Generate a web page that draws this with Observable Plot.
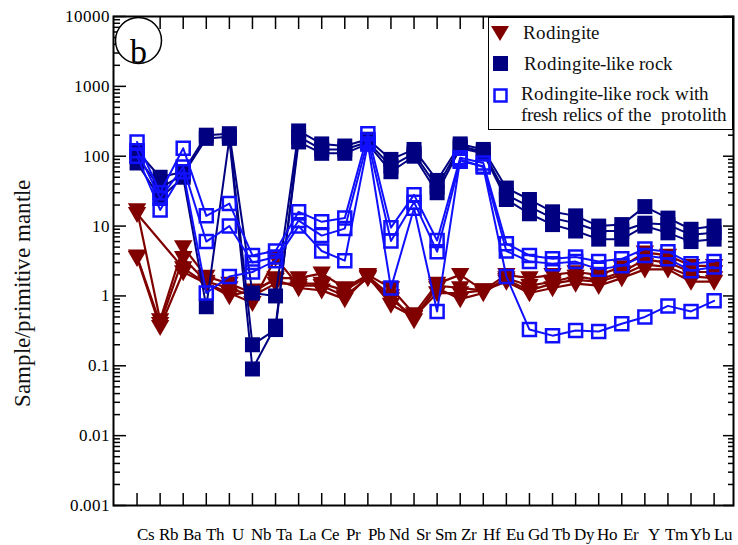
<!DOCTYPE html>
<html><head><meta charset="utf-8">
<script src="https://cdn.jsdelivr.net/npm/d3@7"></script>
<script src="https://cdn.jsdelivr.net/npm/@observablehq/plot@0.6"></script>
<style>
@font-face { font-family: "ChartSerif"; src: local("Liberation Serif"), local("LiberationSerif"), local("Liberation Serif Regular"), local("LiberationSerif-Regular"); }
body{margin:0;background:#fff;font-family:ChartSerif,serif;}
#wrap{position:relative;width:738px;height:545px;}
#legend{position:absolute;left:488px;top:17px;width:245px;height:113px;border:1px solid #000;background:#fff;box-sizing:border-box;}
.lt{position:absolute;font-size:19px;line-height:22px;color:#111;font-family:ChartSerif,serif;}
.li{position:absolute;}
</style>
</head><body><div id="wrap"></div>
<script>
const elements = ["Cs","Rb","Ba","Th","U","Nb","Ta","La","Ce","Pr","Pb","Nd","Sr","Sm","Zr","Hf","Eu","Gd","Tb","Dy","Ho","Er","Y","Tm","Yb","Lu"];
const yTicks = [0.001, 0.01, 0.1, 1, 10, 100, 1000, 10000];
const yTickLabels = ["0.001","0.01","0.1","1","10","100","1000","10000"];
const yLabel = "Sample/primitive mantle";
const panelLabel = "b";
const legendLabels = ["Rodingite", "Rodingite-like rock", "Rodingite-like rock with", "fresh relics of the\u00a0 protolith"];

// Rodingite (dark red down-triangles)
const rodingite1 = [17, 0.45, 5, 1.9, 1.5, 1.1, 1.8, 1.8, 2.1, 1.3, 2.0, 1.3, 0.55, 1.5, 2.0, 1.2, 2.0, 1.8, 2.0, 2.2, 2.0, 2.6, 4.2, 3.8, 2.7, 2.7];
const rodingite2 = [15, null, 2.5, 1.5, 1.1, 0.8, 3.5, 1.4, 1.4, 1.0, 1.8, 0.9, 0.5, 1.3, 0.9, 1.1, 1.8, 1.4, 1.6, 1.9, 1.7, 2.2, 3.3, 3.0, 2.2, 2.2];
const rodingite3 = [3.7, 0.4, 3.5, 1.6, 1.3, 1.0, 1.5, 1.5, 1.5, 1.2, 1.9, 1.0, 0.45, 1.4, 1.3, 1.2, 1.7, 1.2, 1.5, 1.7, 1.6, 2.0, 2.8, 2.6, 1.9, 1.8];
const rodingite4 = [3.5, 0.36, 2.2, 1.5, 1.0, 1.2, 1.7, 1.3, 1.2, 0.9, 1.9, 0.75, 0.5, 1.1, 1.1, 1.2, 1.6, 1.1, 1.3, 1.5, 1.4, 1.8, 2.4, 2.4, 1.6, 1.6];

// Rodingite-like rock (navy filled squares)
const rodLike1 = [120, 50, 60, 200, 210, 1.1, 1.0, 230, 150, 140, 175, 90, 125, 45, 150, 125, 35, 24, 16, 14, 10, 10.5, 19, 13, 9, 10];
const rodLike2 = [100, 35, 55, 180, 190, 0.2, 0.33, 190, 125, 125, 160, 72, 110, 36, 140, 115, 28, 19, 13, 11, 8.5, 8.5, 11, 10.5, 7.5, 8];
const rodLike3 = [80, 25, 50, 0.7, 180, 0.09, 0.37, 160, 110, 110, 150, 60, 100, 30, 130, 110, 24, 15, 10.5, 8.5, 6.5, 6.5, 10, 8, 6, 6.5];

// Rodingite-like rock with fresh relics of the protolith (blue open squares)
const relic1 = [160, 30, 130, 14, 21, 3.8, 4.4, 16, 11.5, 13, 210, 9.5, 28, 6.2, 95, 80, 5.6, 3.8, 3.4, 3.6, 3.1, 3.4, 4.7, 4.3, 2.9, 3.1];
const relic2 = [120, 25, 70, 6, 10, 3.0, 3.6, 12, 7.3, 9.2, 170, 6.1, 22, 4.3, 85, 72, 4.4, 3.1, 2.9, 3.1, 2.4, 2.7, 3.8, 3.4, 2.3, 2.6];
const relic3 = [100, 17, 60, 1.1, 1.9, 2.2, 3.2, 10, 4.4, 3.2, 150, 1.3, 18, 0.6, 90, 70, 1.9, 0.33, 0.27, 0.32, 0.31, 0.4, 0.5, 0.72, 0.6, 0.85];

const colRed = "#800000", colNavy = "#000080", colBlue = "#1010ff";
const FONT = "ChartSerif, serif";

function toRows(list, key) {
  const rows = [];
  list.forEach((vals, s) => vals.forEach((v, i) => { if (v != null) rows.push({s: key + s, i, v}); }));
  return rows;
}
const redRows = toRows([rodingite1, rodingite2, rodingite3, rodingite4], "r");
const navyRows = toRows([rodLike1, rodLike2, rodLike3], "n");
const blueRows = toRows([relic1, relic2, relic3], "b");

const minorTicks = [];
for (let e = -3; e < 4; e++) for (let m = 2; m < 10; m++) minorTicks.push(+(m * Math.pow(10, e)).toPrecision(3));
const xIdx = elements.map((d, i) => i);

const triDown = {draw(ctx, size) { const r = Math.sqrt(size / Math.PI); ctx.moveTo(-1.15 * r, -0.85 * r); ctx.lineTo(1.15 * r, -0.85 * r); ctx.lineTo(0, 1.15 * r); ctx.closePath(); }};
const sq = {draw(ctx, size) { const r = Math.sqrt(size / Math.PI); ctx.rect(-r, -r, 2 * r, 2 * r); }};

const noText = () => "";
const chart = Plot.plot({
  width: 738, height: 545,
  marginTop: 16, marginBottom: 40, marginLeft: 113, marginRight: 5,
  x: {type: "linear", domain: [-1.02, 25.84]},
  y: {type: "log", domain: [0.001, 10000]},
  style: {fontFamily: FONT, background: "white", color: "black"},
  marks: [
    Plot.axisY(yTicks, {anchor: "left", tickSize: 0, tickPadding: 4, tickFormat: d => yTickLabels[yTicks.indexOf(d)], fontSize: 17, fontFamily: FONT, label: null}),
    Plot.axisY(yTicks, {anchor: "left", tickSize: -13, tickFormat: noText, label: null, strokeWidth: 1.5}),
    Plot.axisY(minorTicks, {anchor: "left", tickSize: -7, tickFormat: noText, label: null, strokeWidth: 1.5}),
    Plot.axisY(yTicks, {anchor: "right", tickSize: -11, tickFormat: noText, label: null, strokeWidth: 1.5}),
    Plot.axisY(minorTicks, {anchor: "right", tickSize: -6, tickFormat: noText, label: null, strokeWidth: 1.5}),
    Plot.axisX(xIdx, {anchor: "bottom", tickSize: -12, tickFormat: noText, label: null, strokeWidth: 1.5}),
    Plot.axisX(xIdx, {anchor: "top", tickSize: -12, tickFormat: noText, label: null, strokeWidth: 1.5}),
    Plot.axisX(xIdx, {anchor: "bottom", tickSize: 0, tickPadding: 22, dx: 9, tickFormat: i => elements[i], fontSize: 17, fontFamily: FONT, label: null}),
    Plot.text([yLabel], {frameAnchor: "left", textAnchor: "middle", dx: -91, dy: 32, rotate: -90, fontSize: 23, fontFamily: FONT, fill: "#111"}),
    Plot.line(redRows, {x: "i", y: "v", z: "s", stroke: colRed, strokeWidth: 2.2}),
    Plot.dot(redRows, {x: "i", y: "v", symbol: triDown, r: 8, fill: colRed, stroke: "none"}),
    Plot.line(navyRows, {x: "i", y: "v", z: "s", stroke: colNavy, strokeWidth: 2}),
    Plot.dot(navyRows, {x: "i", y: "v", symbol: sq, r: 7.5, fill: colNavy, stroke: "none"}),
    Plot.line(blueRows, {x: "i", y: "v", z: "s", stroke: colBlue, strokeWidth: 2}),
    Plot.dot(blueRows, {x: "i", y: "v", symbol: sq, r: 6.5, fill: "none", stroke: colBlue, strokeWidth: 2.5}),
    Plot.dot([0], {frameAnchor: "top-left", dx: 25, dy: 24, r: 23, fill: "white", stroke: "black", strokeWidth: 1.5}),
    Plot.text([panelLabel], {frameAnchor: "top-left", textAnchor: "middle", dx: 25, dy: 22, fontSize: 34, fontFamily: FONT, fill: "black"}),
    Plot.frame({stroke: "black", strokeWidth: 2})
  ]
});
const wrap = document.getElementById("wrap");
wrap.appendChild(chart);

const lg = document.createElement("div");
lg.id = "legend";
lg.innerHTML = `
<svg class="li" style="left:1px;top:6px" width="20" height="18"><path d="M1,2 L19,2 L10,17 Z" fill="${colRed}"/></svg>
<span class="lt" style="left:34px;top:4px">${legendLabels[0]}</span>
<svg class="li" style="left:4px;top:38px" width="16" height="16"><rect x="0" y="0" width="15" height="15" fill="${colNavy}"/></svg>
<span class="lt" style="left:35px;top:35px">${legendLabels[1]}</span>
<svg class="li" style="left:4px;top:70px" width="16" height="16"><rect x="1.5" y="1.5" width="12" height="12" fill="none" stroke="${colBlue}" stroke-width="2.5"/></svg>
<span class="lt" style="left:32px;top:65px">${legendLabels[2]}</span>
<span class="lt" style="left:32px;top:86px">${legendLabels[3]}</span>`;
wrap.appendChild(lg);
</script></body></html>
